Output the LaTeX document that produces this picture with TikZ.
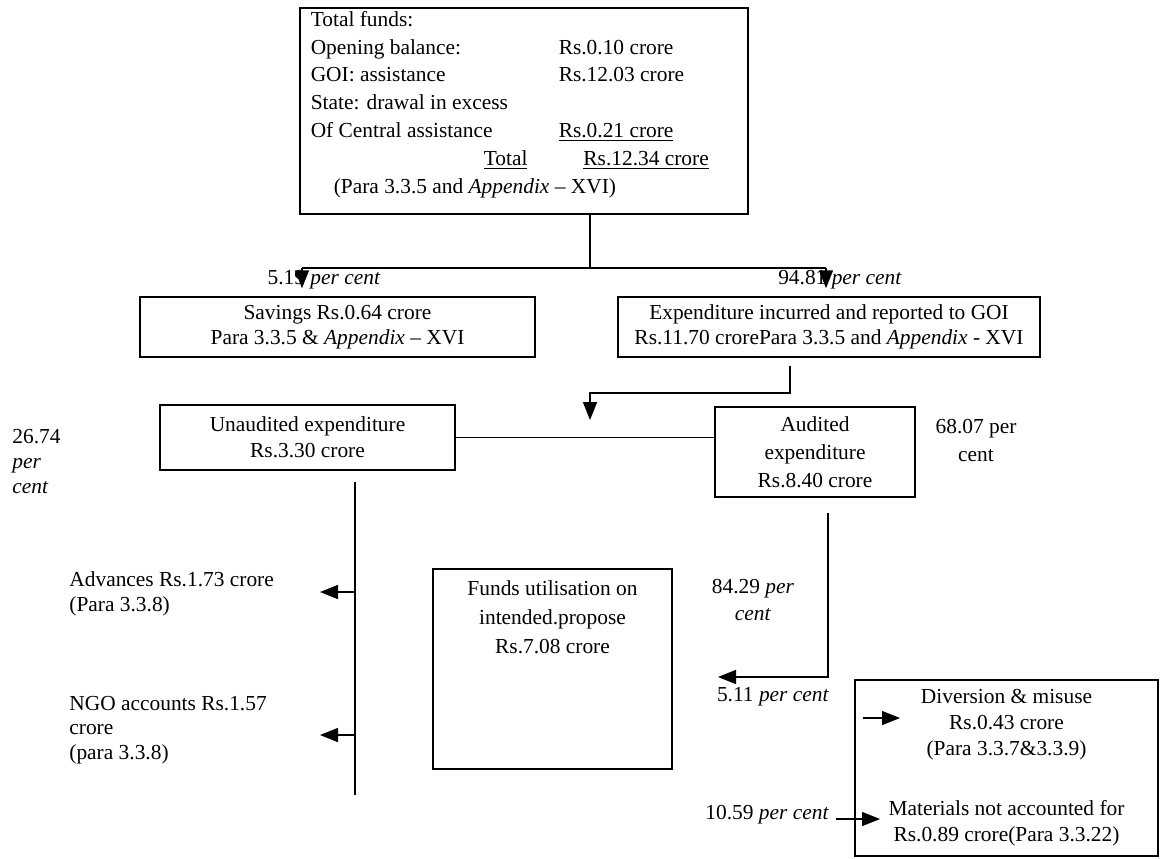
\documentclass[tikz,border=0pt]{standalone}
\usepackage{fontspec}
\setmainfont{Liberation Serif}
\usetikzlibrary{arrows.meta}

\begin{document}
\begin{tikzpicture}[x=0.5pt,y=-0.5pt,line width=0.75pt,
  every node/.style={font=\fontsize{10.7}{13}\selectfont},
  box/.style={draw,rectangle,inner sep=0pt,align=center},
  flow/.style={-{Triangle[length=9pt,width=7pt]}}]
\useasboundingbox (0,0) rectangle (1160,858);

% total funds
\node[box,anchor=north west] (funds) at (299,7) {\parbox[c][103pt][t]{224pt}{%
  \fontsize{10.7}{13.9}\selectfont\leftskip=5.5pt\vspace*{1.7pt}%
  Total funds:\\
  \makebox[124pt][l]{Opening balance:}Rs.0.10 crore\\
  \makebox[124pt][l]{GOI: assistance}Rs.12.03 crore\\
  State: drawal in excess\\
  \makebox[124pt][l]{Of Central assistance}\underline{Rs.0.21 crore}\\
  \hspace*{86.5pt}\underline{Total}\hspace{28pt}\underline{Rs.12.34 crore}\\
  \hspace*{11.5pt}(Para 3.3.5 and \textit{Appendix} -- XVI)}};

\coordinate (split) at (590,268);
\coordinate (lsplit) at (302,268);
\coordinate (rsplit) at (826,268);
\draw (split |- funds.south) -- (split);
\draw (lsplit) -- (rsplit);

\node[box,minimum width=197.5pt,minimum height=30pt,font=\fontsize{10.7}{12.5}\selectfont]
  (savings) at (337.5,327) {Savings Rs.0.64 crore\\Para 3.3.5 \& \textit{Appendix} -- XVI};
\node[box,minimum width=211pt,minimum height=30pt,font=\fontsize{10.7}{12.5}\selectfont]
  (expend) at (829,327) {Expenditure incurred and reported to GOI\\Rs.11.70 crorePara 3.3.5 and \textit{Appendix} - XVI};

\node (pctsav) at (324,280) {5.19 \textit{per cent}};
\node (pctexp) at (840,280) {94.81 \textit{per cent}};
\draw[flow,shorten >=4pt] (lsplit) -- (lsplit |- savings.north);
\draw[flow,shorten >=4pt] (rsplit) -- (rsplit |- expend.north);

% audited / unaudited
\coordinate (audsplit) at (790,393);
\coordinate (audtip) at (590,420);
\draw[flow,shorten <=4pt] (expend.south -| audsplit) -- (audsplit) -- (audtip |- audsplit) -- (audtip);

\node[box,minimum width=147.5pt,minimum height=32.5pt] (unaud) at (307.5,437.5)
  {Unaudited expenditure\\Rs.3.30 crore};
\node[box,minimum width=100pt,minimum height=45pt,font=\fontsize{10.7}{14}\selectfont] (aud) at (815,452)
  {Audited\\expenditure\\Rs.8.40 crore};
\draw (unaud.east) -- (unaud.east -| aud.west);

\node[anchor=west,align=left,font=\fontsize{10.7}{12.5}\selectfont] (pctunaud) at (5,462)
  {26.74\\\textit{per}\\\textit{cent}};
\node[align=center,font=\fontsize{10.7}{14}\selectfont] (pctaud) at (976,440) {68.07 per\\cent};

% unaudited split
\coordinate (unaudtop) at (355,482);
\coordinate (unaudbot) at (355,795);
\coordinate (advtip) at (320,592);
\coordinate (ngotip) at (320,735);
\draw (unaudtop) -- (unaudbot);
\draw[flow] (advtip -| unaudtop) -- (advtip);
\draw[flow] (ngotip -| unaudtop) -- (ngotip);

\node[anchor=west,align=left,font=\fontsize{10.7}{12.5}\selectfont] (adv) at (62,594)
  {Advances Rs.1.73 crore\\(Para 3.3.8)};
\node[anchor=west,align=left,font=\fontsize{10.7}{12.2}\selectfont] (ngo) at (62,730)
  {NGO accounts Rs.1.57\\crore\\(para 3.3.8)};

% audited split
\node[box,anchor=north] (util) at (552.5,568) {\parbox[c][100pt][t]{119.5pt}{%
  \centering\fontsize{10.7}{14.5}\selectfont\vspace*{5.7pt}%
  Funds utilisation on\\intended.propose\\Rs.7.08 crore}};

\coordinate (audbot) at (828,513);
\coordinate (misstip) at (718,677);
\draw[flow] (audbot) -- (audbot |- misstip) -- (misstip);

\node[align=center,font=\fontsize{10.7}{13.5}\selectfont] (pctuse) at (753,600) {84.29 \textit{per}\\\textit{cent}};
\node (pctmis) at (773,697) {5.11 \textit{per cent}};
\node[anchor=west] (pctmat) at (698,815) {10.59 \textit{per cent}};

\node[box,minimum width=151.5pt,minimum height=88pt] (misuse) at (1006.5,768)
  {Diversion \& misuse\\Rs.0.43 crore\\(Para 3.3.7\&3.3.9)\\[17pt]Materials not accounted for\\Rs.0.89 crore(Para 3.3.22)};

\coordinate (divtail) at (863,718);
\coordinate (divtip) at (900,718);
\coordinate (mattip) at (880,819);
\draw[flow] (divtail) -- (divtip);
\draw[flow] (pctmat.east |- mattip) -- (mattip);
\end{tikzpicture}
\end{document}
